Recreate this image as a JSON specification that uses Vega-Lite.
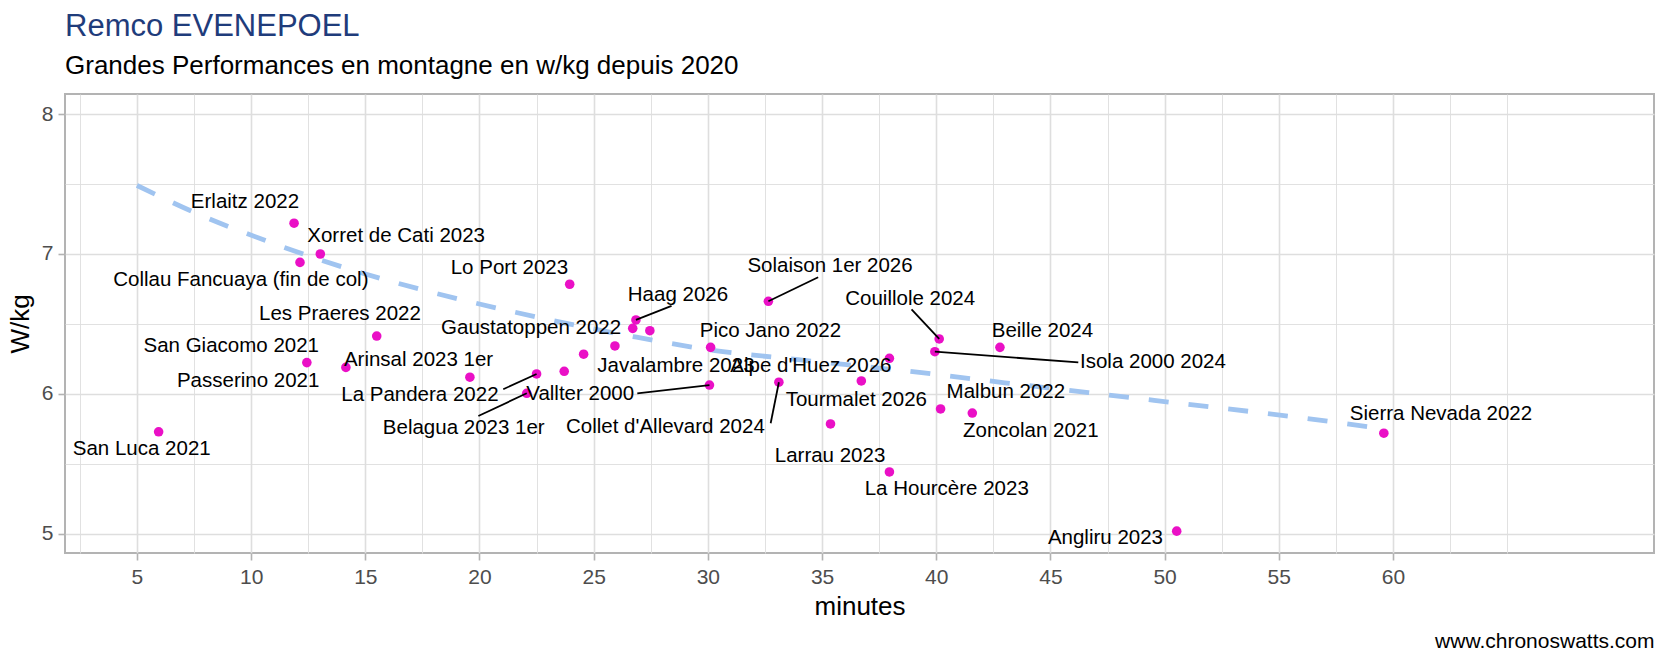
{
  "$schema": "https://vega.github.io/schema/vega-lite/v6.json",
  "width": 1589,
  "height": 459,
  "autosize": {"type": "none"},
  "padding": {"left": 65, "top": 94, "right": 11, "bottom": 110},
  "background": "white",
  "title": {
    "text": "Remco EVENEPOEL",
    "subtitle": "Grandes Performances en montagne en w/kg depuis 2020",
    "anchor": "start",
    "frame": "group",
    "font": "Liberation Sans",
    "fontSize": 31,
    "fontWeight": "normal",
    "color": "#1F3C7B",
    "subtitleFont": "Liberation Sans",
    "subtitleFontSize": 26,
    "subtitleColor": "black",
    "subtitlePadding": 10,
    "offset": 14
  },
  "datasets": {
    "pts": [
      {"name": "San Luca 2021", "minutes": 5.95, "wkg": 5.73, "lx": 5.21, "ly": 5.606},
      {"name": "Erlaitz 2022", "minutes": 11.88, "wkg": 7.22, "lx": 9.73, "ly": 7.368},
      {"name": "Collau Fancuaya (fin de col)", "minutes": 12.14, "wkg": 6.94, "lx": 9.55, "ly": 6.812},
      {"name": "Xorret de Cati 2023", "minutes": 13.03, "wkg": 7.0, "lx": 16.35, "ly": 7.132},
      {"name": "San Giacomo 2021", "minutes": 12.44, "wkg": 6.224, "lx": 9.13, "ly": 6.344},
      {"name": "Passerino 2021", "minutes": 14.15, "wkg": 6.19, "lx": 9.87, "ly": 6.096},
      {"name": "Les Praeres 2022", "minutes": 15.5, "wkg": 6.414, "lx": 13.89, "ly": 6.573},
      {"name": "Arinsal 2023 1er", "minutes": 19.58, "wkg": 6.12, "lx": 17.33, "ly": 6.243},
      {"name": "La Pandera 2022", "minutes": 22.5, "wkg": 6.143, "lx": 17.39, "ly": 5.995, "sx": 21.04, "sy": 6.034},
      {"name": "Belagua 2023 1er", "minutes": 22.07, "wkg": 6.005, "lx": 19.31, "ly": 5.757, "sx": 19.95, "sy": 5.843},
      {"name": "", "minutes": 23.71, "wkg": 6.162},
      {"name": "", "minutes": 24.56, "wkg": 6.284},
      {"name": "Lo Port 2023", "minutes": 23.95, "wkg": 6.784, "lx": 21.31, "ly": 6.901},
      {"name": "Javalambre 2023", "minutes": 25.93, "wkg": 6.343, "lx": 28.6, "ly": 6.198},
      {"name": "Gaustatoppen 2022", "minutes": 26.71, "wkg": 6.469, "lx": 22.26, "ly": 6.473},
      {"name": "Haag 2026", "minutes": 26.85, "wkg": 6.529, "lx": 28.69, "ly": 6.704, "sx": 28.41, "sy": 6.629},
      {"name": "", "minutes": 27.46, "wkg": 6.452},
      {"name": "Pico Jano 2022", "minutes": 30.12, "wkg": 6.333, "lx": 32.74, "ly": 6.449},
      {"name": "Vallter 2000", "minutes": 30.07, "wkg": 6.064, "lx": 24.41, "ly": 6.001, "sx": 26.91, "sy": 6.005},
      {"name": "Solaison 1er 2026", "minutes": 32.65, "wkg": 6.662, "lx": 35.35, "ly": 6.916, "sx": 34.83, "sy": 6.834},
      {"name": "Collet d'Allevard 2024", "minutes": 33.11, "wkg": 6.084, "lx": 28.14, "ly": 5.761, "sx": 32.75, "sy": 5.791},
      {"name": "Larrau 2023", "minutes": 35.37, "wkg": 5.786, "lx": 35.35, "ly": 5.559},
      {"name": "Tourmalet 2026", "minutes": 36.72, "wkg": 6.093, "lx": 36.5, "ly": 5.957},
      {"name": "Alpe d'Huez 2026", "minutes": 37.95, "wkg": 6.255, "lx": 34.51, "ly": 6.198},
      {"name": "La Hourcère 2023", "minutes": 37.95, "wkg": 5.443, "lx": 40.46, "ly": 5.318},
      {"name": "Isola 2000 2024", "minutes": 39.94, "wkg": 6.302, "lx": 49.49, "ly": 6.225, "sx": 46.22, "sy": 6.226},
      {"name": "Couillole 2024", "minutes": 40.13, "wkg": 6.393, "lx": 38.86, "ly": 6.677, "sx": 38.92, "sy": 6.605},
      {"name": "Malbun 2022", "minutes": 40.19, "wkg": 5.893, "lx": 43.05, "ly": 6.011},
      {"name": "Zoncolan 2021", "minutes": 41.58, "wkg": 5.864, "lx": 44.14, "ly": 5.737},
      {"name": "Beille 2024", "minutes": 42.79, "wkg": 6.333, "lx": 44.65, "ly": 6.449},
      {"name": "Angliru 2023", "minutes": 50.53, "wkg": 5.02, "lx": 47.41, "ly": 4.97},
      {"name": "Sierra Nevada 2022", "minutes": 59.6, "wkg": 5.72, "lx": 62.1, "ly": 5.856}
    ],
    "trend": [
      {"minutes": 5.0, "wkg": 7.49},
      {"minutes": 7.47, "wkg": 7.3},
      {"minutes": 10.9, "wkg": 7.08},
      {"minutes": 14.33, "wkg": 6.89},
      {"minutes": 17.83, "wkg": 6.73},
      {"minutes": 21.4, "wkg": 6.59},
      {"minutes": 26.73, "wkg": 6.41},
      {"minutes": 30.31, "wkg": 6.31},
      {"minutes": 33.96, "wkg": 6.245},
      {"minutes": 39.36, "wkg": 6.152},
      {"minutes": 43.0, "wkg": 6.08},
      {"minutes": 46.66, "wkg": 6.01},
      {"minutes": 50.3, "wkg": 5.94},
      {"minutes": 55.75, "wkg": 5.835},
      {"minutes": 59.4, "wkg": 5.755}
    ]
  },
  "resolve": {"axis": {"x": "independent"}},
  "layer": [
    {
      "data": {"name": "trend"},
      "mark": {"type": "line", "interpolate": "monotone", "color": "#A0C4F0", "strokeWidth": 4.8, "strokeDash": [20, 20], "strokeCap": "butt"},
      "encoding": {
        "x": {
          "field": "minutes", "type": "quantitative",
          "scale": {"domain": [1.85, 71.43], "nice": false, "zero": false},
          "axis": {
            "title": "minutes",
            "values": [2.5, 5, 7.5, 10, 12.5, 15, 17.5, 20, 22.5, 25, 27.5, 30, 32.5, 35, 37.5, 40, 42.5, 45, 47.5, 50, 52.5, 55, 57.5, 60, 62.5, 65],
            "labelExpr": "datum.value % 5 === 0 && datum.value <= 60 ? format(datum.value, 'd') : ''",
            "tickOpacity": {"condition": {"test": "datum.value % 5 === 0 && datum.value <= 60", "value": 1}, "value": 0},
            "gridWidth": {"condition": {"test": "datum.value % 5 === 0 && datum.value <= 60", "value": 1.6}, "value": 0.9},
            "titleX": 794.5,
            "titleY": 61,
            "titleAlign": "center",
            "titleBaseline": "alphabetic",
            "labelPadding": 6
          }
        },
        "y": {
          "field": "wkg", "type": "quantitative",
          "scale": {"domain": [4.864, 8.143], "nice": false, "zero": false},
          "axis": {
            "title": "W/kg",
            "values": [5, 5.5, 6, 6.5, 7, 7.5, 8],
            "labelExpr": "datum.value % 1 === 0 ? format(datum.value, 'd') : ''",
            "tickOpacity": {"condition": {"test": "datum.value % 1 === 0", "value": 1}, "value": 0},
            "gridWidth": {"condition": {"test": "datum.value % 1 === 0", "value": 1.6}, "value": 0.9},
            "titleX": -37,
            "titleY": 229.5,
            "titleAngle": 270,
            "titleAlign": "center",
            "titleBaseline": "alphabetic",
            "labelPadding": 5
          }
        }
      }
    },
    {
      "data": {"name": "pts"},
      "mark": {"type": "circle", "size": 92, "color": "#EA10C6", "opacity": 1},
      "encoding": {
        "x": {
          "field": "minutes", "type": "quantitative",
          "scale": {"domain": [1.85, 71.43], "nice": false, "zero": false},
          "axis": {
            "orient": "top",
            "title": "www.chronoswatts.com",
            "domain": false, "ticks": false, "labels": false, "grid": false,
            "titleX": 1589,
            "titleY": 553,
            "titleAlign": "right",
            "titleBaseline": "alphabetic",
            "titleFontSize": 21,
            "titleColor": "black"
          }
        },
        "y": {"field": "wkg", "type": "quantitative", "title": "W/kg", "scale": {"domain": [4.864, 8.143], "nice": false, "zero": false}}
      }
    },
    {
      "data": {"name": "pts"},
      "transform": [{"filter": "isValid(datum.sx)"}],
      "mark": {"type": "rule", "color": "black", "strokeWidth": 1.8},
      "encoding": {
        "x": {"field": "minutes", "type": "quantitative", "axis": null, "scale": {"domain": [1.85, 71.43], "nice": false, "zero": false}},
        "y": {"field": "wkg", "type": "quantitative", "title": "W/kg", "scale": {"domain": [4.864, 8.143], "nice": false, "zero": false}},
        "x2": {"field": "sx"},
        "y2": {"field": "sy"}
      }
    },
    {
      "data": {"name": "pts"},
      "transform": [{"filter": "isValid(datum.lx)"}],
      "mark": {"type": "text", "font": "Liberation Sans", "fontSize": 20.5, "color": "black", "align": "center", "baseline": "middle"},
      "encoding": {
        "x": {"field": "lx", "type": "quantitative", "axis": null, "scale": {"domain": [1.85, 71.43], "nice": false, "zero": false}},
        "y": {"field": "ly", "type": "quantitative", "title": "W/kg", "scale": {"domain": [4.864, 8.143], "nice": false, "zero": false}},
        "text": {"field": "name"}
      }
    }
  ],
  "config": {
    "font": "Liberation Sans",
    "view": {"stroke": "#B3B3B3", "strokeWidth": 2},
    "axis": {
      "domain": false,
      "gridColor": "#DEDEDE",
      "tickColor": "#B3B3B3",
      "tickSize": 7,
      "tickWidth": 1.6,
      "labelFont": "Liberation Sans",
      "labelFontSize": 21,
      "labelColor": "#4D4D4D",
      "titleFont": "Liberation Sans",
      "titleFontSize": 26,
      "titleFontWeight": "normal",
      "titleColor": "black"
    }
  }
}
